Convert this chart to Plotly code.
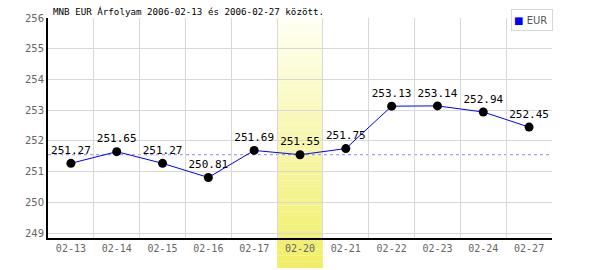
import plotly.graph_objects as go

dates = ["02-13", "02-14", "02-15", "02-16", "02-17", "02-20",
         "02-21", "02-22", "02-23", "02-24", "02-27"]
rates = [251.27, 251.65, 251.27, 250.81, 251.69, 251.55,
         251.75, 253.13, 253.14, 252.94, 252.45]
highlight_index = 5
series_name = "EUR"
title_text = "MNB EUR Árfolyam 2006-02-13 és 2006-02-27 között."

MONO = "DejaVu Sans Mono"

fig = go.Figure()

fig.add_trace(go.Scatter(
    x=dates, y=rates, mode="lines+markers+text",
    line=dict(color="#0000ff", width=1),
    marker=dict(color="#000000", size=9),
    text=[f"{v:.2f}" for v in rates], textposition="top center",
    textfont=dict(family=MONO, size=11, color="#000000"),
    showlegend=False, cliponaxis=False,
))

# gradient highlight band
n = 40
top, bottom = 1.0, -30 / 220
c_top = (255, 255, 244)
c_bot = (240, 238, 100)
for i in range(n):
    t = (i + 0.5) / n
    col = tuple(round(a + (b - a) * t) for a, b in zip(c_top, c_bot))
    y1 = top + (bottom - top) * i / n
    y0 = top + (bottom - top) * (i + 1) / n
    fig.add_shape(type="rect", xref="x", yref="paper",
                  x0=highlight_index - 0.5, x1=highlight_index + 0.5,
                  y0=y0, y1=y1, line=dict(width=0),
                  fillcolor="rgb(%d,%d,%d)" % col, layer="between")

fig.add_shape(type="line", xref="paper", yref="y", x0=0, x1=1,
              y0=rates[highlight_index], y1=rates[highlight_index],
              line=dict(color="#8888ff", width=1, dash="3px,3px"), layer="between")

# legend box
fig.add_annotation(
    xref="paper", yref="paper", x=1.002, y=1.041, xanchor="right", yanchor="top",
    text="<span style='color:#0000ff'>■</span> " + series_name,
    showarrow=False, bgcolor="#ffffff", bordercolor="#d8d8d8", borderwidth=1,
    borderpad=2, width=36, height=16, align="left", valign="middle",
    font=dict(family="DejaVu Sans", size=10, color="#555555"),
)

fig.update_layout(
    width=600, height=270,
    margin=dict(l=48, r=48, t=18, b=32),
    paper_bgcolor="#ffffff", plot_bgcolor="#ffffff",
    showlegend=False,
    title=dict(text=title_text, x=53 / 600, xanchor="left", y=1 - 12 / 270,
               yanchor="middle", font=dict(family=MONO, size=9.2, color="#000000")),
    xaxis=dict(type="category", range=[-0.5, len(dates) - 0.5],
               tickson="boundaries", showgrid=True, gridcolor="#d8d8d8",
               showline=True, linecolor="#000000", linewidth=2,
               ticks="", tickfont=dict(family=MONO, size=10, color="#666666"),
               zeroline=False, fixedrange=True),
    yaxis=dict(range=[248.84, 256], dtick=1, showgrid=True, gridcolor="#d8d8d8",
               showline=True, linecolor="#000000", linewidth=2, ticks="",
               tickfont=dict(family="DejaVu Sans", size=10, color="#666666"),
               zeroline=False, fixedrange=True),
)

fig.write_html("out.html")
